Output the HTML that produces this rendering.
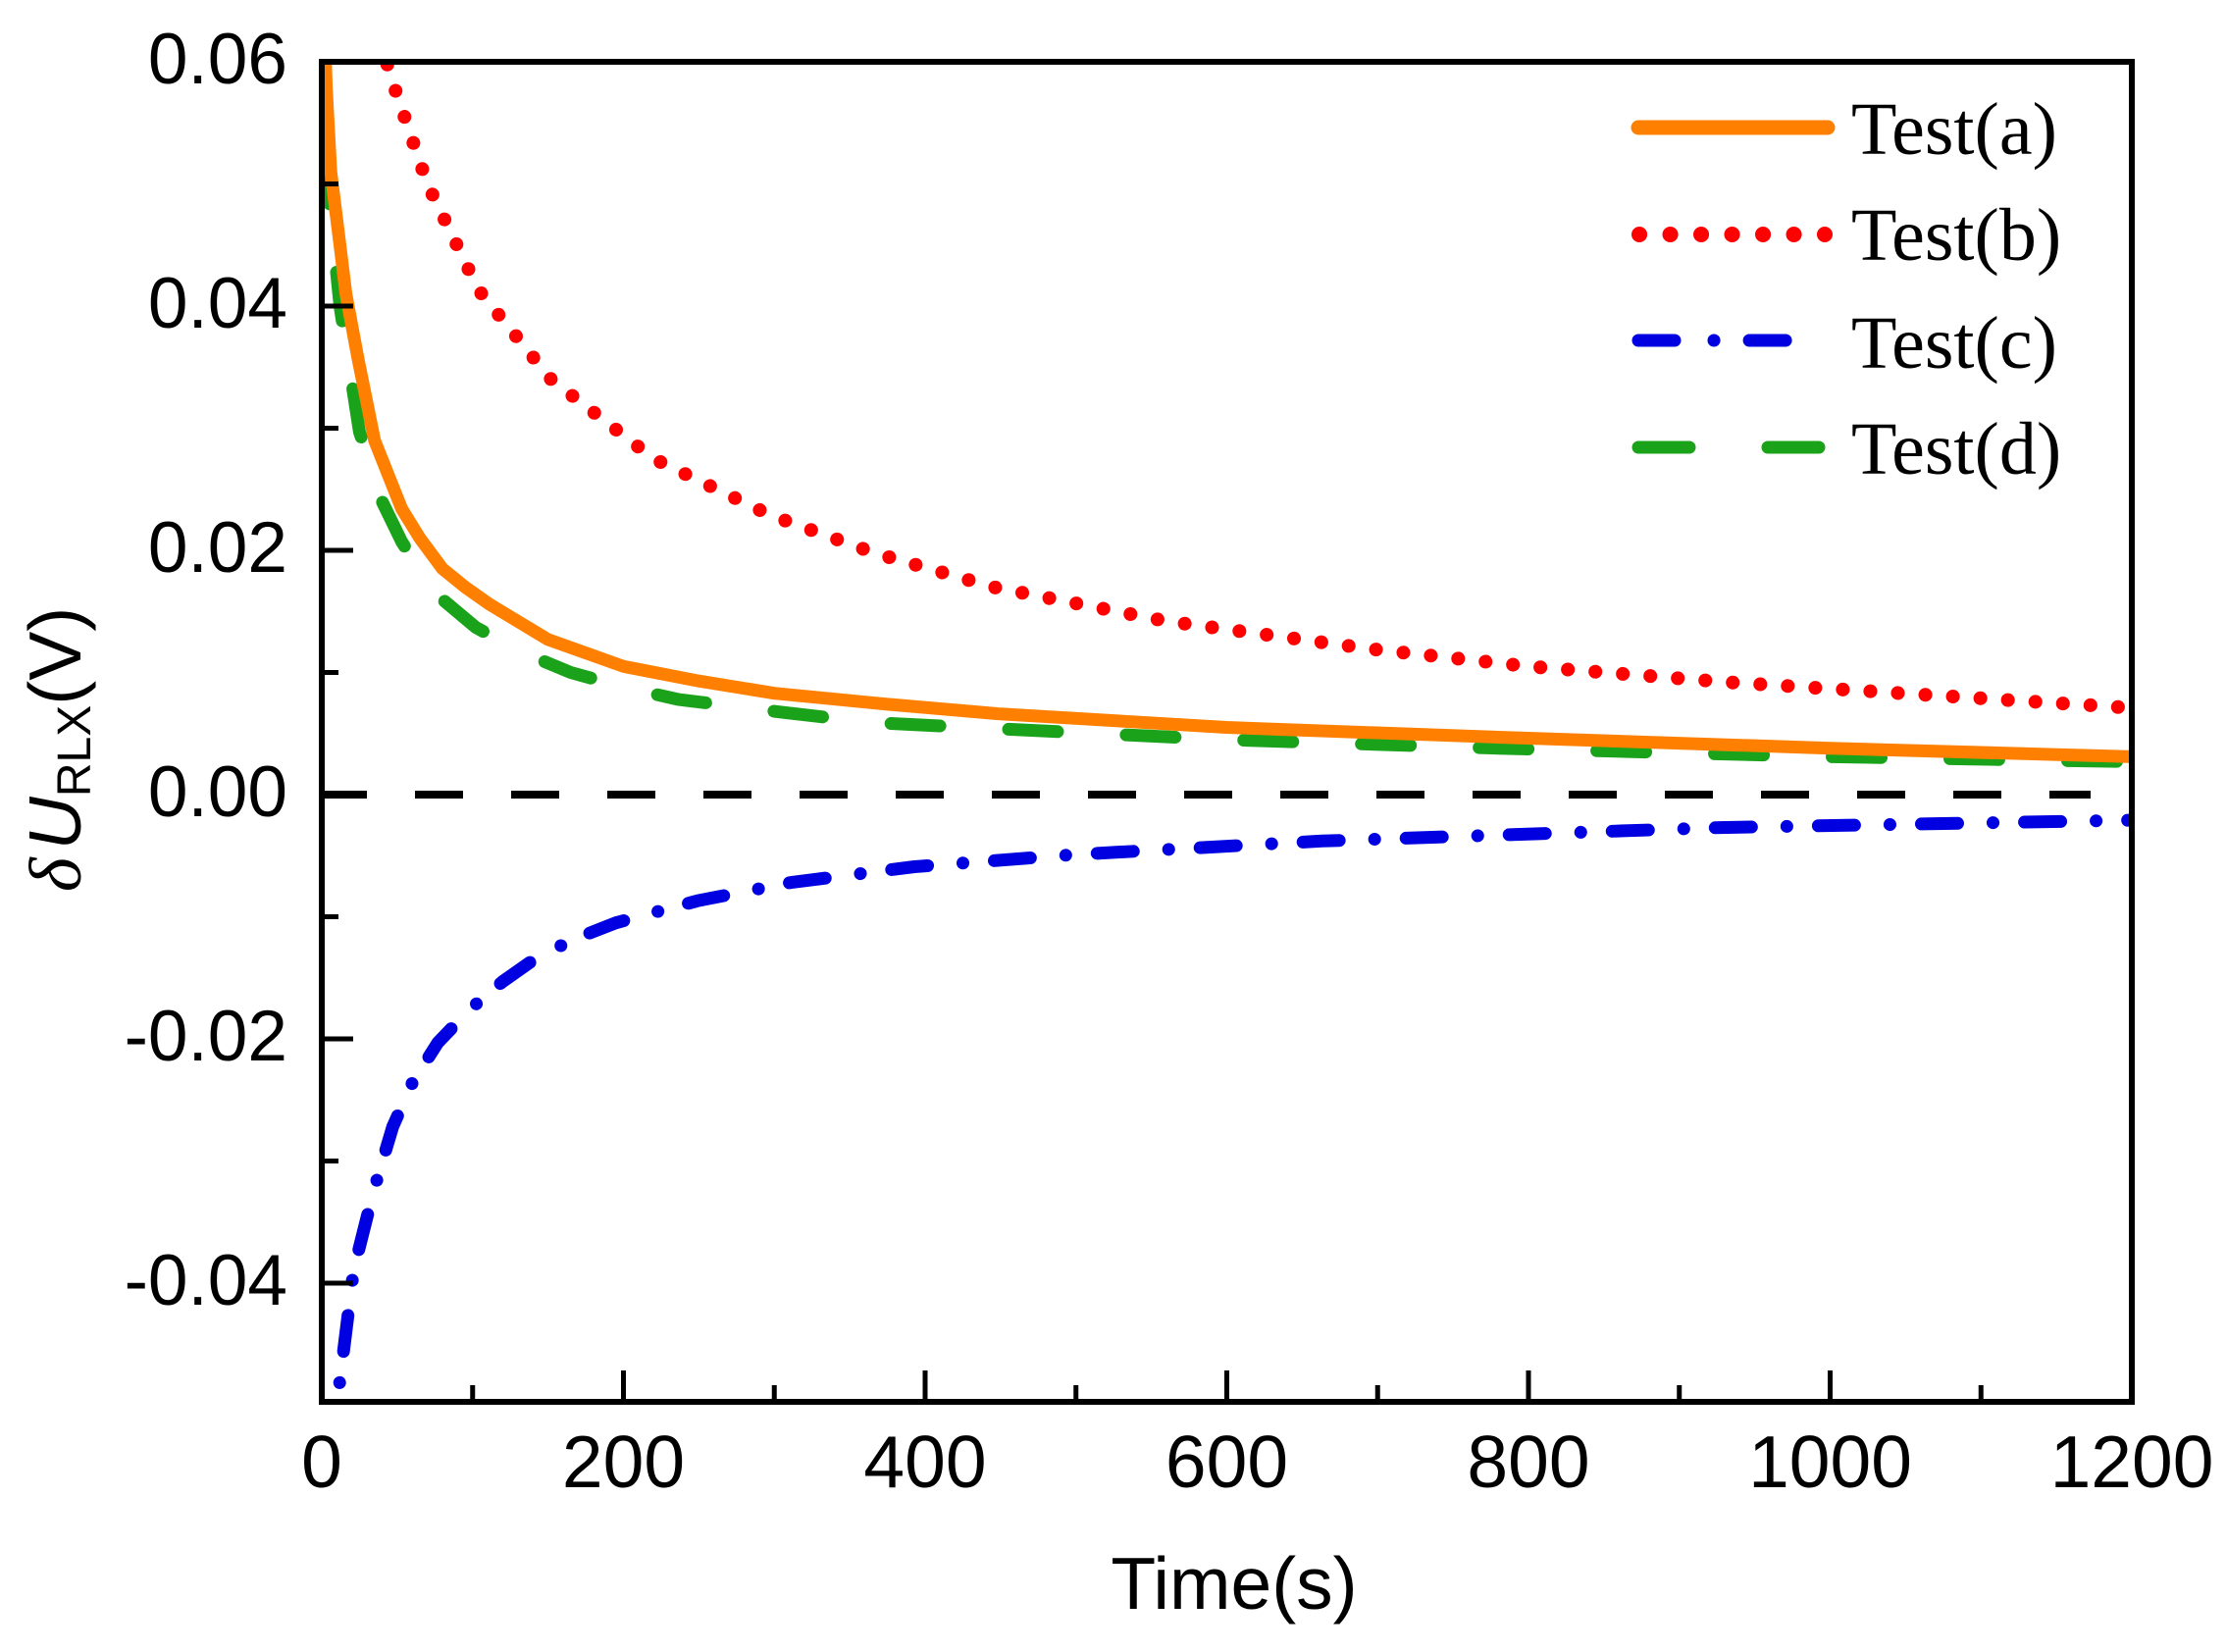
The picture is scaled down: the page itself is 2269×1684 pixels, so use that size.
<!DOCTYPE html>
<html><head><meta charset="utf-8"><style>
html,body{margin:0;padding:0;background:#fff;}
svg{display:block;}
</style></head><body>
<svg width="2269" height="1684" viewBox="0 0 2269 1684" xmlns="http://www.w3.org/2000/svg">
<defs><clipPath id="c"><rect x="328" y="63" width="1845" height="1366"/></clipPath></defs>
<rect width="2269" height="1684" fill="#fff"/>
<g clip-path="url(#c)" fill="none" stroke-linejoin="round">
  <line x1="325" y1="810" x2="2131" y2="810" stroke="#000" stroke-width="8" stroke-dasharray="49 49"/>
  <polyline stroke="#f00" stroke-width="14" stroke-linecap="round" stroke-dasharray="0.1 28" points="389.5,38.1 395.7,70.5 435.6,187.5 487.9,295.8 561.7,386.7 666.3,467.6 784.6,524.9 890.7,563.5 1012.2,598.4 1189,633.2 1399.6,661.8 1558,679.3 1762.5,695.5 2173,721.6"/>
  <polyline stroke="#1aa31a" stroke-width="13" stroke-linecap="round" stroke-dasharray="50 70" points="328,38.1 332.6,175 346.5,312 366.4,440.2 389.5,511.2 409.5,552.3 443.3,604.6 484.8,639.4 527.9,663.1 581.7,685.5 635.5,700.4 690.9,712.9 801.6,726.6 887.7,736.5 1015.3,742.8 1250.5,754 1527.3,762.7 1865.5,771.4 2173,776.4"/>
  <polyline stroke="#ff8000" stroke-width="13" points="329.5,-11.7 332.6,88.9 337.2,175 346.5,249.8 352.6,299.5 364.9,365.5 381.8,449 409.5,518.7 427.9,548.5 451,579.7 474.1,598.4 498.7,615.8 558.6,651.9 635.5,679.3 712.4,694.2 789.3,706.7 904.6,717.9 1019.9,727.8 1250.5,741.5 1527.3,751.5 1865.5,762.7 2173,771.4"/>
  <polyline stroke="#0000e0" stroke-width="13" stroke-linecap="round" stroke-dasharray="37 36 0.1 32" points="341.8,1482.3 344.9,1420.1 360.3,1295.6 380.3,1215.9 400.3,1148.6 420.3,1103.8 446.4,1062.7 478.7,1029.1 512.5,1000.5 547.9,975.6 586.3,956.9 627.8,940.7 710.8,918.3 806.2,899.6 932.2,883.5 1096.8,871 1347.4,857.3 1753.3,843.6 2173,836.1"/>
</g>
<g stroke="#000" stroke-width="5">
  <line x1="481.75" y1="1429" x2="481.75" y2="1412"/>
  <line x1="635.5" y1="1429" x2="635.5" y2="1397"/>
  <line x1="789.25" y1="1429" x2="789.25" y2="1412"/>
  <line x1="943" y1="1429" x2="943" y2="1397"/>
  <line x1="1096.75" y1="1429" x2="1096.75" y2="1412"/>
  <line x1="1250.5" y1="1429" x2="1250.5" y2="1397"/>
  <line x1="1404.25" y1="1429" x2="1404.25" y2="1412"/>
  <line x1="1558" y1="1429" x2="1558" y2="1397"/>
  <line x1="1711.75" y1="1429" x2="1711.75" y2="1412"/>
  <line x1="1865.5" y1="1429" x2="1865.5" y2="1397"/>
  <line x1="2019.25" y1="1429" x2="2019.25" y2="1412"/>
  <line x1="328" y1="187.5" x2="345" y2="187.5"/>
  <line x1="328" y1="312" x2="360" y2="312"/>
  <line x1="328" y1="436.5" x2="345" y2="436.5"/>
  <line x1="328" y1="561" x2="360" y2="561"/>
  <line x1="328" y1="685.5" x2="345" y2="685.5"/>
  <line x1="328" y1="810" x2="360" y2="810"/>
  <line x1="328" y1="934.5" x2="345" y2="934.5"/>
  <line x1="328" y1="1059" x2="360" y2="1059"/>
  <line x1="328" y1="1183.5" x2="345" y2="1183.5"/>
  <line x1="328" y1="1308" x2="360" y2="1308"/>
</g>
<rect x="328" y="63" width="1845" height="1366" fill="none" stroke="#000" stroke-width="6"/>
<g font-family="Liberation Sans, Arial, sans-serif" font-size="73" fill="#000" text-anchor="end">
  <text x="293" y="85">0.06</text>
  <text x="293" y="334">0.04</text>
  <text x="293" y="583">0.02</text>
  <text x="293" y="832">0.00</text>
  <text x="293" y="1081">-0.02</text>
  <text x="293" y="1330">-0.04</text>
</g>
<g font-family="Liberation Sans, Arial, sans-serif" font-size="75" fill="#000" text-anchor="middle">
  <text x="328" y="1516">0</text>
  <text x="635.5" y="1516">200</text>
  <text x="943" y="1516">400</text>
  <text x="1250.5" y="1516">600</text>
  <text x="1558" y="1516">800</text>
  <text x="1865.5" y="1516">1000</text>
  <text x="2173" y="1516">1200</text>
  <text x="1258" y="1640">Time(s)</text>
</g>
<text transform="translate(82,764) rotate(-90)" text-anchor="middle" font-size="75" fill="#000" font-family="Liberation Sans, Arial, sans-serif"><tspan font-family="Liberation Serif, serif" font-style="italic">δ</tspan><tspan font-style="italic" dx="8">U</tspan><tspan font-size="48" dy="10">RLX</tspan><tspan dy="-10">(V)</tspan></text>
<g fill="none">
  <line x1="1670" y1="130" x2="1863" y2="130" stroke="#ff8000" stroke-width="15" stroke-linecap="round"/>
  <line x1="1671" y1="239" x2="1860" y2="239" stroke="#f00" stroke-width="16" stroke-linecap="round" stroke-dasharray="0.1 31.4"/>
  <line x1="1670" y1="347" x2="1850" y2="347" stroke="#0000e0" stroke-width="13" stroke-linecap="round" stroke-dasharray="37 40 0.1 36"/>
  <line x1="1670" y1="456" x2="1860" y2="456" stroke="#1aa31a" stroke-width="13" stroke-linecap="round" stroke-dasharray="52 80"/>
</g>
<g font-family="Liberation Serif, Times New Roman, serif" font-size="76" fill="#000">
  <text x="1887" y="157">Test(a)</text>
  <text x="1887" y="265">Test(b)</text>
  <text x="1887" y="375">Test(c)</text>
  <text x="1887" y="483">Test(d)</text>
</g>
</svg>
</body></html>
